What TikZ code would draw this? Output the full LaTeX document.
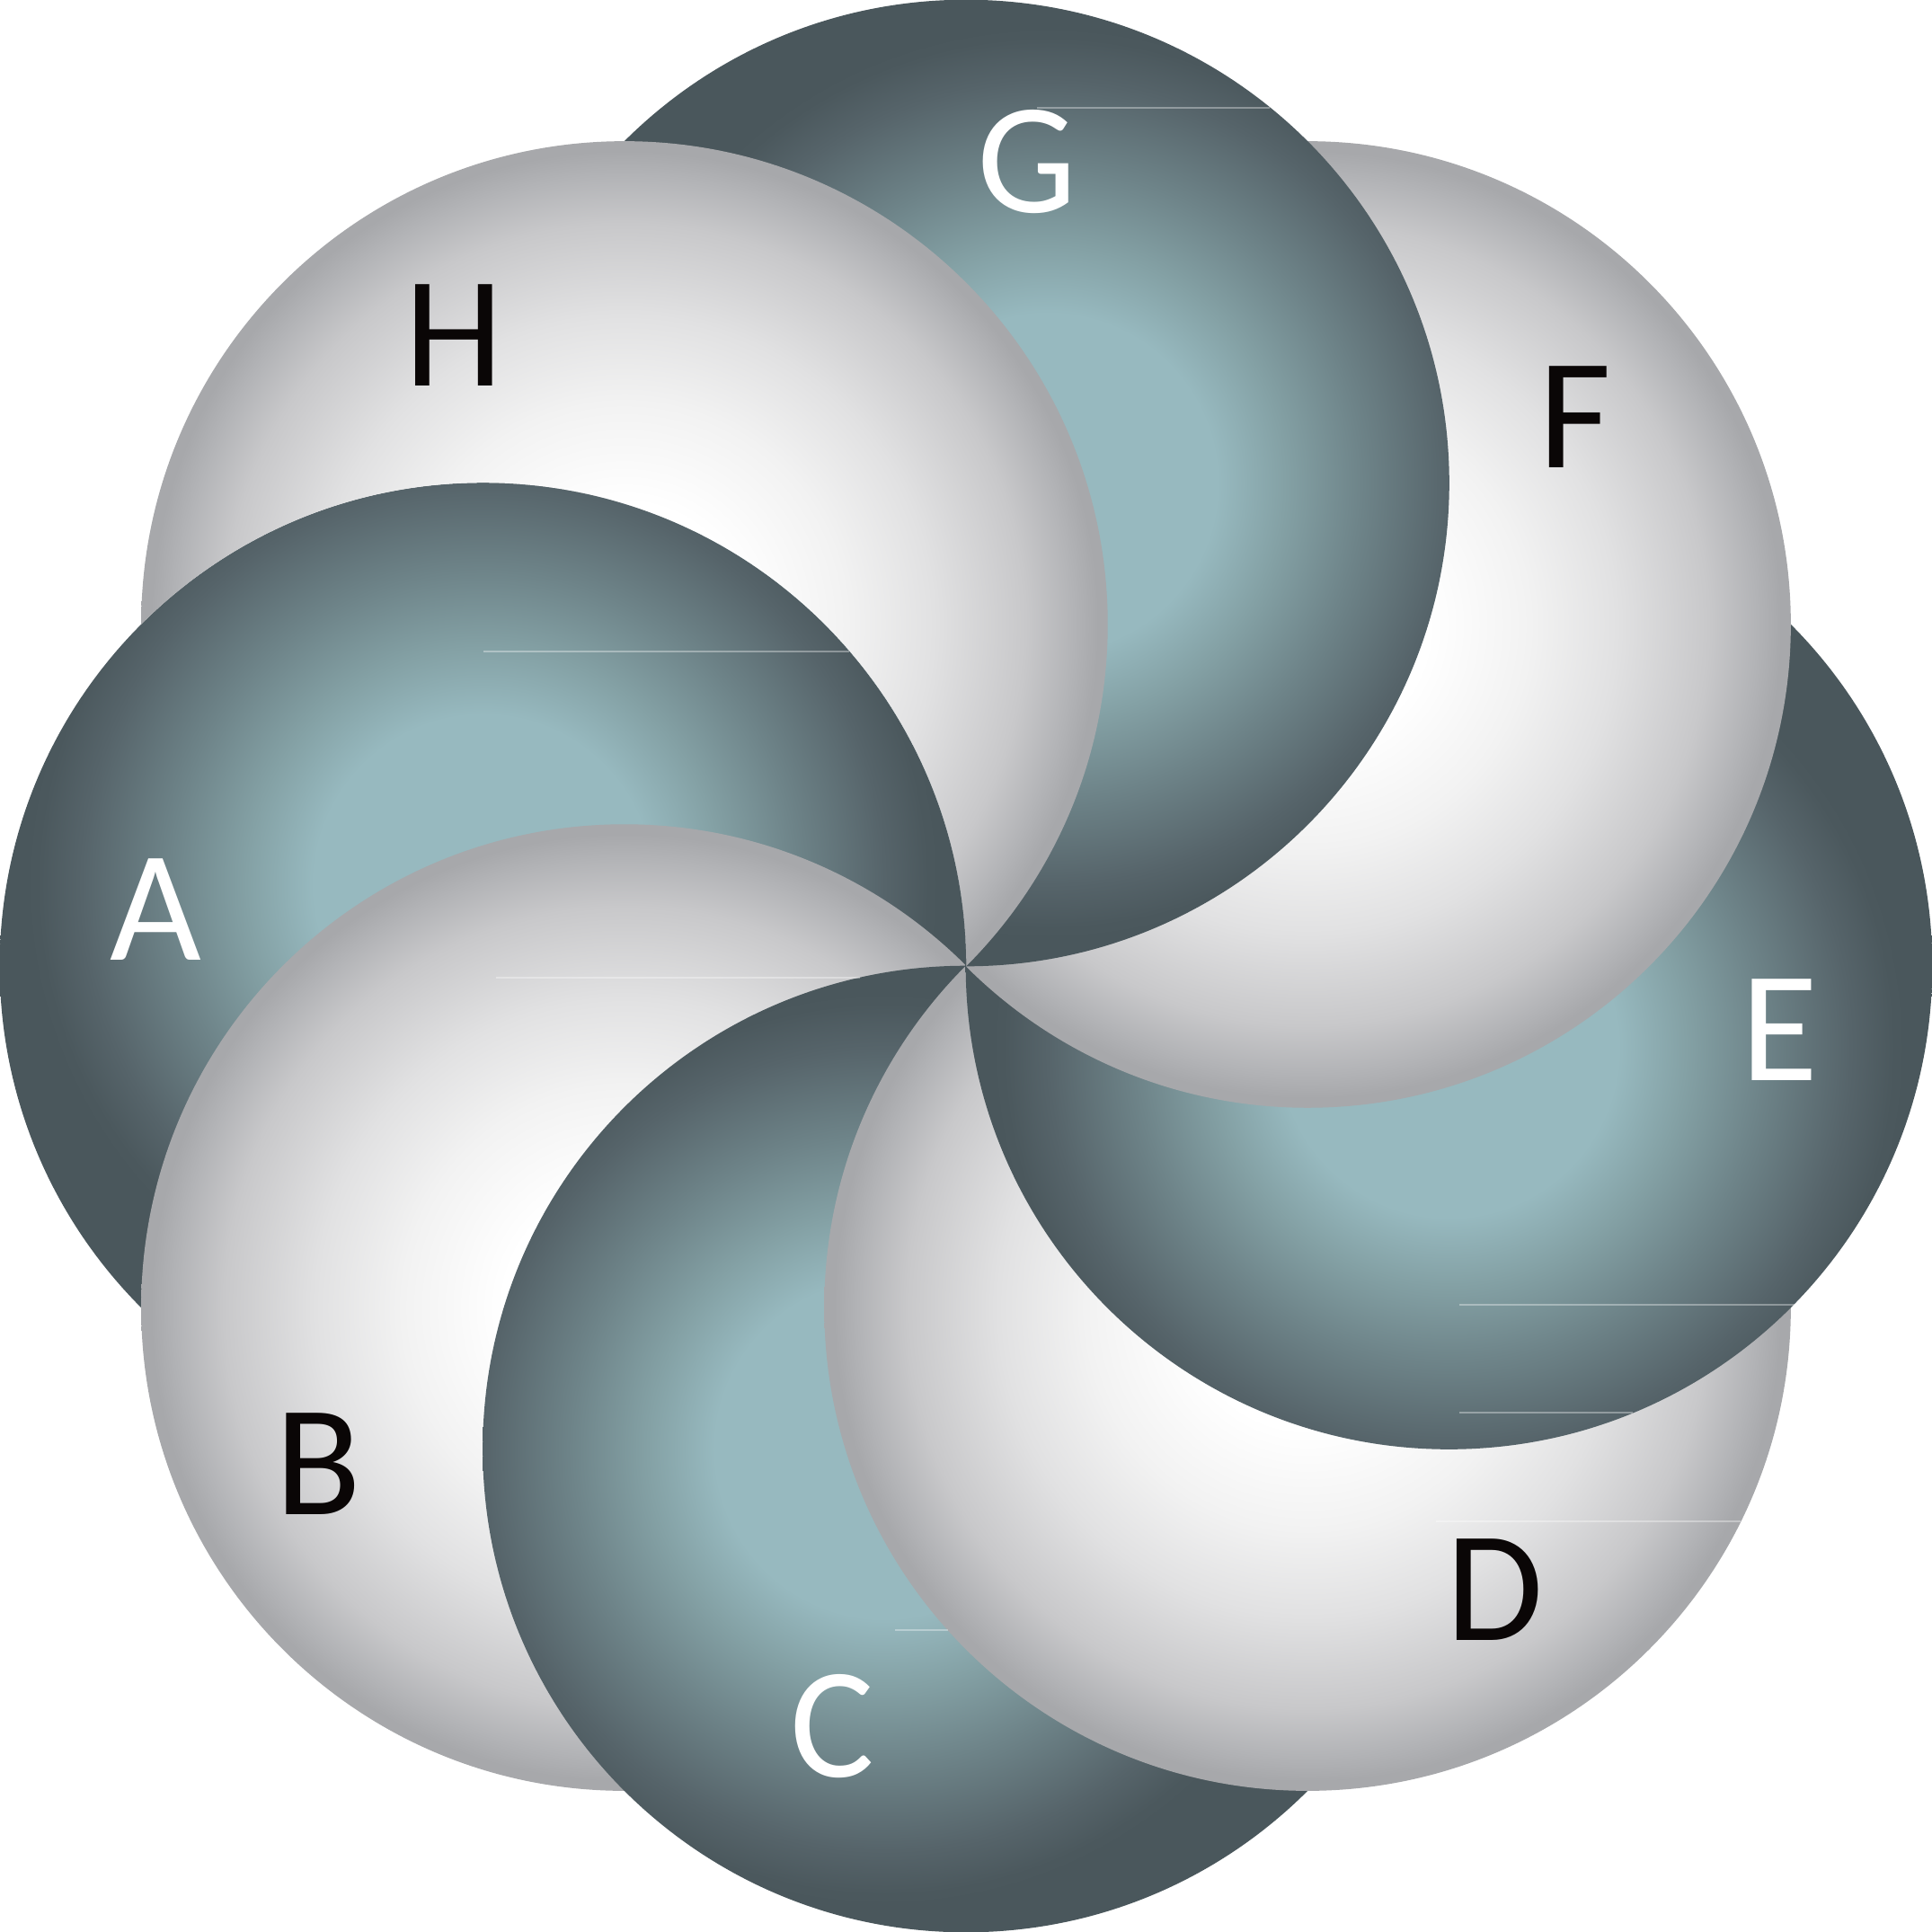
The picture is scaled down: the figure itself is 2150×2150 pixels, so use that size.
\documentclass[tikz,border=0pt]{standalone}
\usepackage{fontspec}
\setmainfont{Carlito}
\definecolor{tL}{RGB}{151,185,191}
\definecolor{tM1}{RGB}{132,161,165}
\definecolor{tM2}{RGB}{110,132,137}
\definecolor{tM3}{RGB}{86,100,106}
\definecolor{tM4}{RGB}{75,88,93}
\definecolor{tD}{RGB}{74,87,92}
\definecolor{wW}{RGB}{255,255,255}
\definecolor{wM0}{RGB}{242,242,242}
\definecolor{wM1}{RGB}{225,225,226}
\definecolor{wM2}{RGB}{200,200,202}
\definecolor{wM3}{RGB}{178,179,182}
\definecolor{wG}{RGB}{167,168,171}
\definecolor{labdark}{RGB}{10,6,6}
% teal: used on a disc 1.2 times the circle, centred off the circle centre
\pgfdeclareradialshading{tealball}{\pgfpoint{0bp}{0bp}}{color(0bp)=(tL); color(7.3bp)=(tL); color(10.2bp)=(tM1); color(13.5bp)=(tM2); color(17.3bp)=(tM3); color(19.2bp)=(tM4); color(19.8bp)=(tD); color(50bp)=(tD)}
\pgfdeclareradialshading{whiteball}{\pgfpoint{0bp}{0bp}}{color(0bp)=(wW); color(6.25bp)=(wW); color(11.5bp)=(wM0); color(16bp)=(wM1); color(20.75bp)=(wM2); color(23.25bp)=(wM3); color(24.5bp)=(wG); color(50bp)=(wG)}
\def\circR{5.375cm}
\def\bigR{6.45cm}
\newcommand\tealdisc[2]{%
  \begin{scope}
    \clip (#1) circle (\circR);
    \shade[tball] (#2) circle (\bigR);
  \end{scope}}
\begin{document}
\begin{tikzpicture}[x=0.01cm,y=-0.01cm,
  tball/.style={shading=tealball},
  wball/.style={shading=whiteball},
  lab/.style={font=\fontsize{50}{60}\selectfont, inner sep=0pt, anchor=center},
  labw/.style={lab, text=white},
  labk/.style={lab, text=labdark},
  seam/.style={draw=white, draw opacity=0.35, line width=0.35pt}]
\useasboundingbox (0,0) rectangle (2150,2150);
\coordinate (cA) at (537.5,1075);
\coordinate (cB) at (694.93,1455.07);
\coordinate (cC) at (1075,1612.5);
\coordinate (cD) at (1455.07,1455.07);
\coordinate (cE) at (1612.5,1075);
\coordinate (cF) at (1455.07,694.93);
\coordinate (cG) at (1075,537.5);
\coordinate (cH) at (694.93,694.93);
% centres of the teal gradients
\coordinate (gA) at (537.5,984);
\coordinate (gC) at (984,1612.5);
\coordinate (gE) at (1612.5,1166);
\coordinate (gG) at (1166,537.5);
\coordinate (bb1) at (-20,-20);
\coordinate (bb2) at (2170,2170);
% each circle covers the previous one; F, G, H stay outside A so that A covers H
\tealdisc{cA}{gA}
\shade[wball] (cB) circle (\circR);
\tealdisc{cC}{gC}
\shade[wball] (cD) circle (\circR);
\tealdisc{cE}{gE}
\begin{scope}[even odd rule]
  \clip (cA) circle (\circR) (bb1) rectangle (bb2);
  \shade[wball] (cF) circle (\circR);
  \tealdisc{cG}{gG}
  \shade[wball] (cH) circle (\circR);
\end{scope}
% faint seams
\coordinate (s1a) at (1154,120);  \coordinate (s1b) at (1413,120);
\coordinate (s2a) at (538,725);   \coordinate (s2b) at (945,725);
\coordinate (s3a) at (552,1088);  \coordinate (s3b) at (957,1088);
\coordinate (s4a) at (1624,1452); \coordinate (s4b) at (1997,1452);
\coordinate (s5a) at (1624,1572); \coordinate (s5b) at (1817,1572);
\coordinate (s6a) at (1598,1693); \coordinate (s6b) at (1937,1693);
\coordinate (s7a) at (996,1814);  \coordinate (s7b) at (1055,1814);
\draw[seam] (s1a) -- (s1b);
\draw[seam] (s2a) -- (s2b);
\draw[seam] (s3a) -- (s3b);
\draw[seam] (s4a) -- (s4b);
\draw[seam] (s5a) -- (s5b);
\draw[seam] (s6a) -- (s6b);
\draw[seam] (s7a) -- (s7b);
% labels
\node[labw] (lA) at (173,1012) {A};
\node[labk] (lB) at (354,1629) {B};
\node[labw] (lC) at (926,1921) {C};
\node[labk] (lD) at (1664,1769) {D};
\node[labw] (lE) at (1980,1146) {E};
\node[labk] (lF) at (1753,464) {F};
\node[labw] (lG) at (1143,180) {G};
\node[labk] (lH) at (505,373) {H};
\end{tikzpicture}
\end{document}
